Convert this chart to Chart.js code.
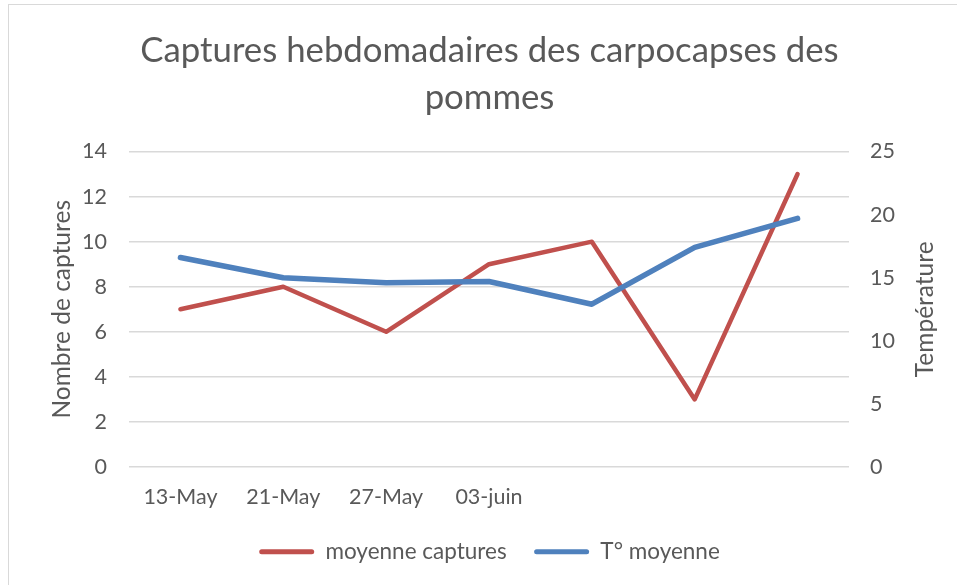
<!DOCTYPE html>
<html>
<head>
<meta charset="utf-8">
<script src="https://cdn.jsdelivr.net/npm/chart.js@4.4.1/dist/chart.umd.min.js"></script>
<style>
  body { margin: 0; background: #fff; overflow: hidden; }
  #frame {
    position: absolute;
    left: 8px;
    top: 4px;
    width: 980px;
    height: 620px;
    border: 1.5px solid #d9d9d9;
  }
  /* chart area in the original is a bit wider than the screenshot */
  #chart { position: absolute; left: 0; top: 0; }
</style>
</head>
<body>
<div id="frame"></div>
<canvas id="chart" width="979" height="585"></canvas>
<script>
const categories = ['13-May', '21-May', '27-May', '03-juin', '', '', ''];
const captures = [7, 8, 6, 9, 10, 3, 13];
const temperature = [16.6, 15.0, 14.6, 14.7, 12.9, 17.4, 19.7];

const textColor = '#595959';
const fontFamily = 'Lato, "Open Sans", sans-serif';

// right axis title reads bottom-to-top, Chart.js only rotates it the other way
const rightTitle = {
  id: 'rightTitle',
  afterDraw(chart) {
    const { ctx, chartArea } = chart;
    ctx.save();
    ctx.translate(925, (chartArea.top + chartArea.bottom) / 2);
    ctx.rotate(-Math.PI / 2);
    ctx.font = `24.5px ${fontFamily}`;
    ctx.fillStyle = textColor;
    ctx.textAlign = 'center';
    ctx.textBaseline = 'middle';
    ctx.fillText('Température', 0, 0);
    ctx.restore();
  }
};

new Chart(document.getElementById('chart'), {
  type: 'line',
  data: {
    labels: categories,
    datasets: [
      {
        label: 'moyenne captures',
        data: captures,
        borderColor: '#C0504D',
        backgroundColor: '#C0504D',
        borderWidth: 4.5,
        pointRadius: 0,
        borderCapStyle: 'round',
        borderJoinStyle: 'round',
        yAxisID: 'y',
        order: 1
      },
      {
        label: 'T° moyenne',
        data: temperature,
        borderColor: '#4F81BD',
        backgroundColor: '#4F81BD',
        borderWidth: 5.5,
        pointRadius: 0,
        borderCapStyle: 'round',
        borderJoinStyle: 'round',
        yAxisID: 'y1',
        order: 0
      }
    ]
  },
  options: {
    responsive: false,
    animation: false,
    layout: {
      padding: { left: 0, right: 0, top: 0, bottom: 12 }
    },
    plugins: {
      tooltip: { enabled: false },
      title: {
        display: true,
        text: ['Captures hebdomadaires des carpocapses des', 'pommes'],
        color: textColor,
        font: { family: fontFamily, size: 34.75, weight: 'normal', lineHeight: 1.36 },
        padding: { top: 27, bottom: 30 }
      },
      legend: {
        position: 'bottom',
        labels: {
          color: textColor,
          font: { family: fontFamily, size: 22.5 },
          boxWidth: 55,
          boxHeight: 5,
          padding: 27.5,
          useBorderRadius: true,
          borderRadius: 2.5,
          sort: (a, b) => a.datasetIndex - b.datasetIndex,
          generateLabels(chart) {
            const items = Chart.defaults.plugins.legend.labels.generateLabels(chart);
            items.forEach(item => {
              item.lineWidth = 0;
              item.fillStyle = item.strokeStyle;
            });
            return items;
          }
        }
      }
    },
    scales: {
      x: {
        offset: true,
        grid: { display: false },
        border: { display: false },
        ticks: {
          color: textColor,
          font: { family: fontFamily, size: 21.5 },
          padding: 9,
          maxRotation: 0,
          autoSkip: false
        },
        afterFit(scale) {
          scale.height = 46;
        }
      },
      y: {
        position: 'left',
        min: 0,
        max: 14,
        grid: { color: '#d9d9d9', lineWidth: 1.5, drawTicks: false },
        border: { display: false },
        ticks: {
          stepSize: 2,
          color: textColor,
          font: { family: fontFamily, size: 21.5 },
          padding: 22
        },
        title: {
          display: true,
          text: 'Nombre de captures',
          color: textColor,
          font: { family: fontFamily, size: 24.5 },
          padding: { top: 47, bottom: 0 }
        },
        afterFit(scale) {
          scale.width = 129;
        }
      },
      y1: {
        position: 'right',
        min: 0,
        max: 25,
        grid: { drawOnChartArea: false, drawTicks: false },
        border: { display: false },
        ticks: {
          stepSize: 5,
          color: textColor,
          font: { family: fontFamily, size: 21.5 },
          padding: 21
        },
        afterFit(scale) {
          scale.width = 130;
        }
      }
    }
  },
  plugins: [rightTitle]
});
</script>
</body>
</html>
